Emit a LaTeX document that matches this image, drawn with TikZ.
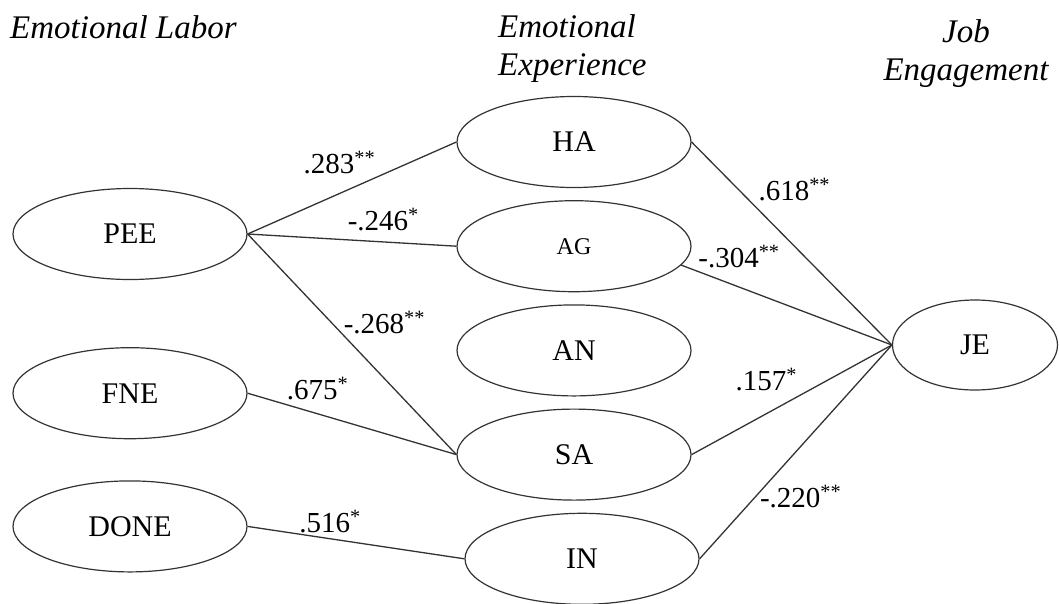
\documentclass[tikz,border=0pt]{standalone}
\usepackage{fontspec}
\setmainfont{Liberation Serif}
\usetikzlibrary{positioning, shapes.geometric}

\begin{document}
\begin{tikzpicture}[
x=1pt, y=-1pt,
latent/.style={ellipse, draw=black!80, line width=1.2pt, inner sep=0pt, minimum width=234pt, minimum height=91pt, font=\fontsize{30}{36}\selectfont},
heading/.style={font=\fontsize{33}{38}\selectfont\itshape, inner sep=0pt},
coef/.style={font=\fontsize{29}{34}\selectfont, inner sep=0pt},
link/.style={draw=black!80, line width=1.3pt}
]
\useasboundingbox (0,0) rectangle (1059,603);

% column headings
\node[heading, anchor=north west] (labor) at (10,15) {Emotional Labor};
\node[heading, align=left, anchor=north west] (exper) at (498,14) {Emotional\\Experience};
\node[heading, align=center, anchor=north] (engage) at (966,19) {Job\\Engagement};

% emotional labor
\node[latent] (PEE) at (130,234) {PEE};
\node[latent, below=67pt of PEE] (FNE) {FNE};
\node[latent, below=41pt of FNE] (DONE) {DONE};

% emotional experience
\node[latent] (HA) at (574,142) {HA};
\node[latent, below=12pt of HA] (AG) {\fontsize{24}{28}\selectfont AG};
\node[latent, below=12pt of AG] (AN) {AN};
\node[latent, below=12pt of AN] (SA) {SA};
\node[latent, below=12pt of SA, xshift=8pt] (IN) {IN};

% job engagement
\node[latent, minimum width=165pt, minimum height=90pt] (JE) at (975,345) {JE};

\draw[link] (PEE.east) -- node[coef, pos=0.44, above=19pt] {.283\textsuperscript{**}} (HA.west);
\draw[link] (PEE.east) -- node[coef, pos=0.65, above=10pt] {-.246\textsuperscript{*}} (AG.west);
\draw[link] (PEE.east) -- node[coef, pos=0.40, right=12pt] {-.268\textsuperscript{**}} (SA.west);
\draw[link] (FNE.east) -- node[coef, pos=0.335, above=13pt] {.675\textsuperscript{*}} (SA.west);
\draw[link] (DONE.east) -- node[coef, pos=0.38, above=5pt] {.516\textsuperscript{*}} (IN.west);

\draw[link] (HA.east) -- node[coef, pos=0.236, right=19pt] {.618\textsuperscript{**}} (JE.west);
\draw[link] (AG.-10) -- node[coef, pos=0.274, above=18pt] {-.304\textsuperscript{**}} (JE.west);
\draw[link] (SA.east) -- node[coef, pos=0.53, above left=5pt and 0pt] {.157\textsuperscript{*}} (JE.west);
\draw[link] (IN.east) -- node[coef, pos=0.29, right=4pt] {-.220\textsuperscript{**}} (JE.west);

\end{tikzpicture}
\end{document}
